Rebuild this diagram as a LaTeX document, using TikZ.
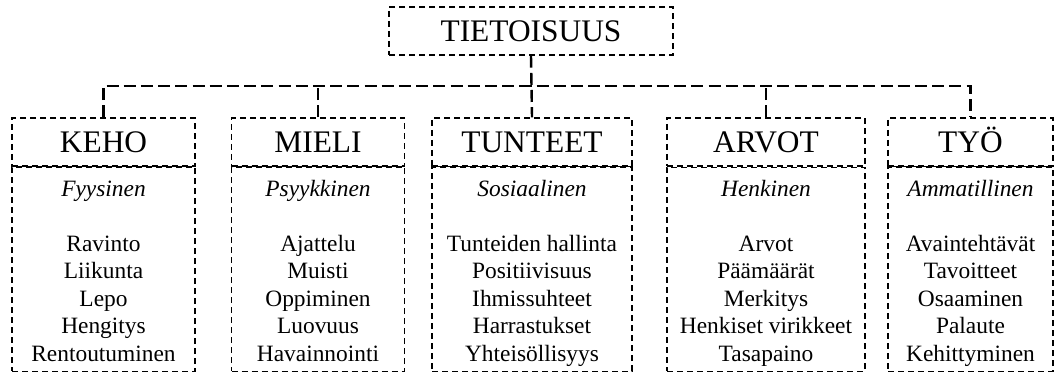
\documentclass[tikz,border=0pt]{standalone}
\usepackage{fontspec}
\setmainfont{Liberation Serif}
\usetikzlibrary{positioning}

\begin{document}
\begin{tikzpicture}[x=0.5pt, y=-0.5pt,
	head/.style={draw, densely dashed, line width=0.6pt, inner sep=0pt, minimum height=24pt, text height=10.4pt, text depth=0pt, font=\fontsize{15.7}{18}\selectfont},
	body/.style={draw, densely dashed, line width=0.6pt, inner sep=0pt, minimum height=102pt, text height=92pt, text depth=0pt, align=center, font=\fontsize{11.7}{13.75}\selectfont},
	link/.style={line width=1.2pt, dash pattern=on 6pt off 2.6pt},
	sep/.style={line width=0.7pt}]

	\useasboundingbox (0,0) rectangle (1055,373);

	\node[head, minimum width=142pt] (top) at (531,31) {TIETOISUUS};

	\node[head, minimum width=91.5pt] (keho) at (103.5,142) {KEHO};
	\node[head, minimum width=86.5pt] (mieli) at (318,142) {MIELI};
	\node[head, minimum width=100pt] (tunteet) at (532,142) {TUNTEET};
	\node[head, minimum width=99pt] (arvot) at (766,142) {ARVOT};
	\node[head, minimum width=82.5pt] (tyo) at (970.5,142) {TYÖ};

	\node[body, minimum width=91.5pt, below=0pt of keho] (keho-body)
		{\textit{Fyysinen}\\[13.75pt]Ravinto\\Liikunta\\Lepo\\Hengitys\\Rentoutuminen};
	\node[body, minimum width=86.5pt, below=0pt of mieli] (mieli-body)
		{\textit{Psyykkinen}\\[13.75pt]Ajattelu\\Muisti\\Oppiminen\\Luovuus\\Havainnointi};
	\node[body, minimum width=100pt, below=0pt of tunteet] (tunteet-body)
		{\textit{Sosiaalinen}\\[13.75pt]Tunteiden hallinta\\Positiivisuus\\Ihmissuhteet\\Harrastukset\\Yhteisöllisyys};
	\node[body, minimum width=99pt, below=0pt of arvot] (arvot-body)
		{\textit{Henkinen}\\[13.75pt]Arvot\\Päämäärät\\Merkitys\\Henkiset virikkeet\\Tasapaino};
	\node[body, minimum width=82.5pt, below=0pt of tyo] (tyo-body)
		{\textit{Ammatillinen}\\[13.75pt]Avaintehtävät\\Tavoitteet\\Osaaminen\\Palaute\\Kehittyminen};

	% solid lines under the titles
	\foreach \col in {keho, mieli, tunteet, tyo} {
		\draw[sep] (\col.south west) -- (\col.south east);
	}

	\coordinate (bus) at (531,86);
	\draw[link] (top.south) -- (tunteet.north);
	\draw[link] (keho.north) |- (bus) -| (tyo.north);
	\foreach \col in {mieli, arvot} {
		\draw[link] (\col.north) -- (\col.north |- bus);
	}

\end{tikzpicture}
\end{document}
